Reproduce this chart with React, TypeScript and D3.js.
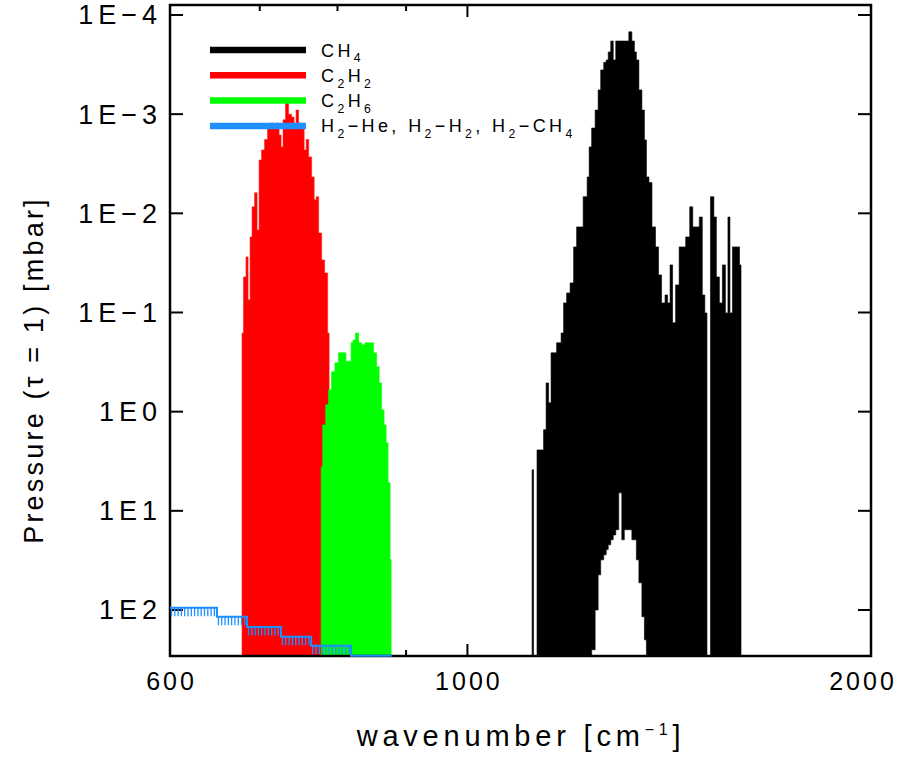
import React from "react";
import * as d3 from "d3";

const W = 903;
const H = 759;
const plot = { left: 170, right: 871, top: 5, bottom: 656 };

const xDomain = [600, 2000];
const yDomain = [7.93e-5, 291];
const xMajorTicks = [600, 1000, 2000];
const xMajorLabels = ["600", "1000", "2000"];
const xMinorTicks = [700, 800, 900];
const yTicks = [1e-4, 1e-3, 1e-2, 1e-1, 1, 10, 100];
const yTickLabels = ["1E\u22124", "1E\u22123", "1E\u22122", "1E\u22121", "1E0", "1E1", "1E2"];

// pressure used where the tau=1 level lies below the plotted range
const DEEP = 300;

// C2H2 band (nu5)
const c2h2Wn = [679, 682.4, 684.9, 687.3, 689.6, 692, 695.6, 698, 700.4, 704, 707.6, 711.3, 715, 718.8, 722.3, 725, 727.3, 729.8, 733.6, 737.4, 741.2, 743.8, 746.3, 750.3, 754.1, 756.8, 759.4, 763.4, 767.2, 770, 772.5, 776.6, 780.5, 784.6, 788.6];
const c2h2P = [0.161, 0.0438, 0.0275, 0.0746, 0.0173, 0.0086, 0.0062, 0.0147, 0.0029, 0.0023, 0.0018, 0.00135, 0.00123, 0.00135, 0.00123, 0.00162, 0.00214, 0.00114, 0.00077, 0.001, 0.00107, 0.00129, 0.00091, 0.00123, 0.00135, 0.0023, 0.0018, 0.0027, 0.0043, 0.0073, 0.0068, 0.0158, 0.0295, 0.04, 0.161];

// C2H6 band (nu9)
const c2h6Wn = [777.9, 781.9, 786, 789.6, 793.7, 799.2, 803.4, 807.6, 810.3, 813.1, 817.7, 820.2, 823, 827.3, 831.8, 835.9, 841.7, 846.2, 848.9, 853.3, 857.8, 860.8, 865.1, 868.2, 871.1, 874.1, 877.2];
const c2h6P = [3.6, 1.36, 0.85, 0.6, 0.397, 0.322, 0.255, 0.255, 0.255, 0.31, 0.31, 0.202, 0.189, 0.161, 0.202, 0.212, 0.202, 0.202, 0.202, 0.255, 0.353, 0.513, 0.96, 1.36, 2.06, 5.2, 31];

// CH4 bands (nu4, nu2)
const ch4Wn = [1117.5, 1123, 1131, 1136.8, 1142.7, 1146.7, 1152.5, 1156.5, 1162.5, 1168.5,
  1172.6, 1176.6, 1182.7, 1188.8, 1197, 1203.2, 1209.4, 1217.8, 1222, 1226.2,
  1230.4, 1234.7, 1241, 1249.6, 1253.9, 1260.5, 1267, 1271.4, 1275.8, 1282.4,
  1286.8, 1293.5, 1300.2, 1307, 1311.5, 1316, 1322.9, 1329.8, 1334.4, 1339,
  1345.9, 1352.9, 1357.6, 1362.3, 1369.4, 1376.5, 1386.1, 1390.9, 1400.5, 1407.8,
  1412.7, 1420, 1424.9, 1434.8, 1442.3, 1449.8, 1459.9, 1470, 1475.1, 1485.4,
  1493, 1500.8, 1506, 1511.9, 1524.3, 1529.6, 1537.5, 1545.5, 1553.5, 1561.6,
  1567, 1572.4, 1580.6, 1591.6, 1599.8];
const ch4PeakP = [3.86, DEEP, 2.43, 2.43, 1.52, 0.513, 0.815, 0.255, 0.255, 0.202,
  0.202, 0.161, 0.08, 0.0635, 0.0503, 0.0218, 0.0137, 0.0137, 0.0068, 0.0068,
  0.0043, 0.00214, 0.00138, 0.00091, 0.00057, 0.000358, 0.0003, 0.000284, 0.000236, 0.000183,
  0.000284, 0.000183, 0.000183, 0.000183, 0.000183, 0.000183, 0.000148, 0.000183, 0.000236, 0.000284,
  0.00057, 0.00091, 0.00182, 0.0043, 0.0049, 0.0137, 0.0218, 0.0418, 0.08, 0.0665,
  0.08, 0.0331, 0.127, 0.0527, 0.0218, 0.0218, 0.0173, 0.0086, 0.0137, 0.0137,
  0.0109, 0.0665, 0.101, DEEP, 0.0068, 0.0109, 0.0438, 0.08, 0.0331, 0.101,
  0.0109, 0.101, 0.0218, 0.0218, 0.0331];
const ch4TroughP = [DEEP, DEEP, DEEP, DEEP, DEEP, DEEP, DEEP, DEEP, DEEP, DEEP,
  DEEP, DEEP, DEEP, DEEP, DEEP, DEEP, DEEP, DEEP, DEEP, DEEP,
  DEEP, DEEP, 252, 100, 44.2, 31.2, 27.8, 24.6, 22, 19.6,
  17.5, 15.5, 6.59, 19.6, 15.5, 15.5, 15.5, 19.6, 19.6, 31.2,
  53.2, 117, 200, DEEP, DEEP, DEEP, DEEP, DEEP, DEEP, DEEP,
  DEEP, DEEP, DEEP, DEEP, DEEP, DEEP, DEEP, DEEP, DEEP, DEEP,
  DEEP, DEEP, DEEP, DEEP, DEEP, DEEP, DEEP, DEEP, DEEP, DEEP,
  DEEP, DEEP, DEEP, DEEP, DEEP];

// collision-induced absorption (binned)
const ciaEdges = [600, 650.4, 684.9, 726, 764.6, 818.8, 878];
const ciaP = [95, 117, 148, 186, 230, 290];

const legendNames = ["CH_4", "C_2H_2", "C_2H_6", "H_2\u2212He,  H_2\u2212H_2,  H_2\u2212CH_4"];
const legendColors = ["#000000", "#ff0000", "#00ff00", "#1e8fff"];

const FONT = "'Liberation Sans', Arial, Helvetica, sans-serif";

function chem(s: string, size: number) {
  const parts = s.split(/_(\d)/);
  const out: any[] = [];
  let shifted = false;
  parts.forEach((p, i) => {
    if (p === "") return;
    if (i % 2 === 1) {
      out.push(<tspan key={i} dy={size * 0.32} fontSize={size * 0.68}>{p}</tspan>);
      shifted = true;
    } else {
      out.push(<tspan key={i} dy={shifted ? -size * 0.32 : 0}>{p}</tspan>);
      shifted = false;
    }
  });
  return out;
}

export default function App() {
  const x = d3.scaleLog().domain(xDomain).range([plot.left, plot.right]);
  const y = d3.scaleLog().domain(yDomain).range([plot.top, plot.bottom]);
  const yBottom = plot.bottom;

  const bandArea = (wn: number[], top: number[], low: number[] | null) =>
    d3.area<number>()
      .curve(d3.curveStep)
      .x((i) => x(wn[i]))
      .y0((i) => (low ? y(low[i]) : yBottom + 5))
      .y1((i) => y(top[i]))(d3.range(wn.length)) as string;

  const ch4Path = bandArea(ch4Wn, ch4PeakP, ch4TroughP);
  const c2h2Path = bandArea(c2h2Wn, c2h2P, null);
  const c2h6Path = bandArea(c2h6Wn, c2h6P, null);

  // CIA step line
  const ciaPts: [number, number][] = [];
  ciaP.forEach((p, i) => {
    ciaPts.push([x(ciaEdges[i]), Math.min(y(p), plot.bottom)]);
    ciaPts.push([x(ciaEdges[i + 1]), Math.min(y(p), plot.bottom)]);
  });
  const ciaLine = d3.line()(ciaPts) as string;
  const teeth: string[] = [];
  ciaP.forEach((p, i) => {
    const x0 = x(ciaEdges[i]);
    const x1 = x(ciaEdges[i + 1]);
    const yy = y(p);
    if (yy >= plot.bottom - 2) return;
    for (let xx = x0 + 1.5; xx < x1 - 1; xx += 3.3) {
      teeth.push(`M${xx},${yy}V${Math.min(yy + 8.5, plot.bottom)}`);
    }
  });

  return (
    <svg width={W} height={H} style={{ display: "block", position: "absolute", left: 0, top: 0, background: "#fff" }} fontFamily={FONT}>
      <defs>
        <clipPath id="plotclip">
          <rect x={plot.left} y={plot.top} width={plot.right - plot.left} height={plot.bottom - plot.top} />
        </clipPath>
      </defs>
      <rect x={0} y={0} width={W} height={H} fill="#fff" />

      {/* ticks (under the data) */}
      <g stroke="#000" strokeWidth={2}>
        {xMinorTicks.map((t) => (
          <g key={t}>
            <line x1={x(t)} x2={x(t)} y1={plot.bottom} y2={plot.bottom - 6} />
            <line x1={x(t)} x2={x(t)} y1={plot.top} y2={plot.top + 6} />
          </g>
        ))}
        {xMajorTicks.map((t) => (
          <g key={t}>
            <line x1={x(t)} x2={x(t)} y1={plot.bottom} y2={plot.bottom - 12} />
            <line x1={x(t)} x2={x(t)} y1={plot.top} y2={plot.top + 12} />
          </g>
        ))}
        {yTicks.map((t) => (
          <g key={t}>
            <line x1={plot.left} x2={plot.left + 13} y1={y(t)} y2={y(t)} />
            <line x1={plot.right} x2={plot.right - 13} y1={y(t)} y2={y(t)} />
          </g>
        ))}
      </g>

      <g clipPath="url(#plotclip)">
        <path d={ch4Path} fill="#000" stroke="#000" strokeWidth={0.6} />
        <path d={c2h2Path} fill="#ff0000" stroke="#ff2020" strokeWidth={0.6} />
        <path d={c2h6Path} fill="#00ff00" stroke="#00ff00" strokeWidth={0.6} />
      </g>

      {/* frame */}
      <rect x={plot.left} y={plot.top} width={plot.right - plot.left} height={plot.bottom - plot.top} fill="none" stroke="#000" strokeWidth={2.5} />

      {/* CIA on top */}
      <path d={teeth.join("")} stroke="#1e8fff" strokeWidth={1.3} fill="none" />
      <path d={ciaLine} stroke="#1e8fff" strokeWidth={2} fill="none" />

      {/* legend */}
      {legendNames.map((name, i) => {
        const ly = 50 + i * 25.3;
        return (
          <g key={name}>
            <line x1={210} x2={306} y1={ly} y2={ly} stroke={legendColors[i]} strokeWidth={6.5} />
            <text x={321} y={ly + 6.5} fontSize={18} letterSpacing={3.4} fill="#000">
              {chem(name, 18)}
            </text>
          </g>
        );
      })}

      {/* y tick labels */}
      {yTicks.map((t, i) => (
        <text key={t} x={157 + 5} y={y(t) + 9.5} textAnchor="end" fontSize={27} letterSpacing={5} fill="#000">
          {yTickLabels[i]}
        </text>
      ))}
      {/* x tick labels */}
      {xMajorTicks.map((t, i) => (
        <text key={t} x={Math.min(x(t) + 1.5, W - 40)} y={690} textAnchor="middle" fontSize={25} letterSpacing={3} fill="#000">
          {xMajorLabels[i]}
        </text>
      ))}

      {/* axis titles */}
      <text x={521} y={746} textAnchor="middle" fontSize={29} letterSpacing={4.8} fill="#000">
        wavenumber [cm<tspan dy={-11} fontSize={16}>{"\u22121"}</tspan><tspan dy={11}>]</tspan>
      </text>
      <text transform="translate(43,370) rotate(-90)" textAnchor="middle" fontSize={27} letterSpacing={3.2} fill="#000">
        {"Pressure (\u03c4 = 1) [mbar]"}
      </text>
    </svg>
  );
}
